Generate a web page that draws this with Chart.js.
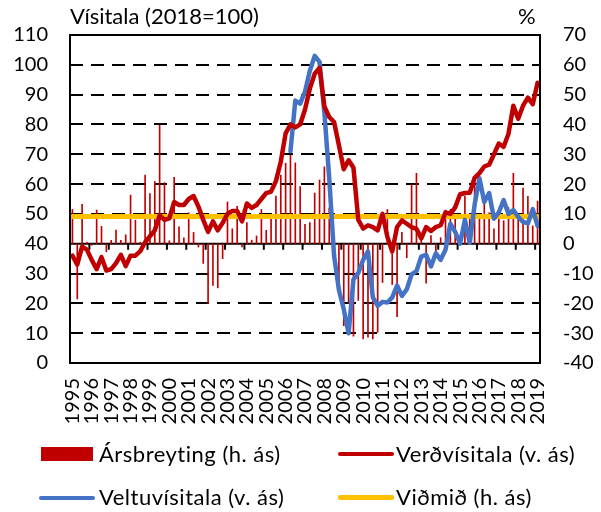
<!DOCTYPE html>
<html>
<head>
<meta charset="utf-8">
<script src="https://cdn.jsdelivr.net/npm/chart.js@4.4.1/dist/chart.umd.min.js"></script>
<style>
  html, body { margin: 0; padding: 0; background: #fff; }
  #wrap { position: relative; width: 601px; height: 512px; font-family: Lato, "Open Sans", sans-serif; color: #000; }
  canvas { position: absolute; left: 0; top: 0; }
  .txt { position: absolute; font-size: 22px; line-height: 22px; white-space: nowrap; }
  .leg { letter-spacing: 0.5px; }
  .sw { position: absolute; }
</style>
</head>
<body>
<div id="wrap">
  <canvas id="c" width="601" height="512"></canvas>
  <div class="txt" style="left:70px; top:5px;">Vísitala (2018=100)</div>
  <div class="txt" style="left:518px; top:5px;">%</div>
  <div class="sw" style="left:41px; top:447px; width:52px; height:14px; background:#C00000;"></div>
  <div class="txt leg" style="left:99px; top:443px;">Ársbreyting (h. ás)</div>
  <div class="sw" style="left:338px; top:452px; width:56px; height:4px; border-radius:2px; background:#C00000;"></div>
  <div class="txt leg" style="left:396px; top:443px;">Verðvísitala (v. ás)</div>
  <div class="sw" style="left:39px; top:496px; width:56px; height:4px; border-radius:2px; background:#4472C4;"></div>
  <div class="txt leg" style="left:99px; top:486px;">Veltuvísitala (v. ás)</div>
  <div class="sw" style="left:338px; top:495px; width:56px; height:5px; border-radius:2px; background:#FFC000;"></div>
  <div class="txt leg" style="left:396px; top:486px;">Viðmið (h. ás)</div>
</div>
<script>
// Tick labels (one per year)
const years = ['1995','1996','1997','1998','1999','2000','2001','2002','2003','2004','2005','2006','2007','2008','2009','2010','2011','2012','2013','2014','2015','2016','2017','2018','2019'];
// Quarterly categories, 1995 Q1 .. 2019 Q1
const quarters = years.flatMap(y => y === '2019' ? [y + ' Q1'] : [y + ' Q1', y + ' Q2', y + ' Q3', y + ' Q4']);

// Ársbreyting (h. ás), %
const arsbreyting = [
  11.5, -18.5, 13.2, 0.5, -0.5, 11.3, 5.8, -2.7, 1.1, 4.6,
  1.1, 3.0, 16.3, 7.9, 0.5, 23, 16.8, 20.9, 39.8, 20.5,
  1, 22.3, 5.7, 2, 10.4, 3.8, -1.1, -6.6, -20, -14,
  -14.8, -5, 14, 5, 12.5, -1.1, 7.1, 1.2, 2.6, 11.5,
  4.5, 8.5, 16, 23, 27, 29.7, 27.1, 19.2, 6.5, 7.1,
  17, 21.4, 25.8, 12, -6, -15, -27.5, -20, -31, -19,
  -31.9, -31.3, -31.9, -29.7, -13, 11.5, -13.7, -24.5, 3.8, -4.7,
  19.8, 23.6, 2.7, -13.2, 2.7, -3.3, 2, 11.3, 11.5, 10,
  2.7, 16, 10, 20.9, 9.9, 13.7, 10.4, 5, 11.5, 7.7,
  12.1, 23.6, 8.8, 18.7, 15.9, 6, 14.3
];
// Verðvísitala (v. ás), 2018=100
const verdvisitala = [
  36, 33, 39, 38, 34.5, 31.5, 35.5, 31, 31.5, 33.5,
  36.3, 32.5, 36, 36, 37.5, 40.5, 42.5, 44.5, 49.5, 48,
  48.5, 54, 53, 53, 55, 56, 52.5, 48, 44, 47.5,
  44.5, 47, 50, 51, 51, 47.5, 53.5, 52, 53, 55,
  57, 57.5, 61, 67.5, 77, 80, 79, 80, 85, 92,
  97, 99, 86, 82.5, 80.8, 73, 65, 68, 65.5, 48,
  45.1, 46.2, 45.6, 44.5, 50, 42.3, 37.4, 45.6, 47.8, 46.7,
  45.6, 45, 41.8, 45.6, 44.3, 45.6, 46.2, 50.5, 50, 52.2,
  56.6, 57, 57.1, 62.1, 63.7, 65.9, 66.5, 70, 73.6, 72.5,
  76.9, 86.3, 81.9, 86.3, 89, 86.8, 94
];
// Veltuvísitala (v. ás), 2018=100
const veltuvisitala = [
  null, null, null, null, null, null, null, null, null, null,
  null, null, null, null, null, null, null, null, null, null,
  null, null, null, null, null, null, null, null, null, null,
  null, null, null, null, null, null, null, null, null, null,
  null, null, null, null, null, 71, 88, 87, 91, 98,
  103, 101, 84, 62, 36, 24.5, 18, 10, 28, 30.2,
  34.6, 37.4, 22, 19.2, 20.5, 20.3, 22, 26, 22.5, 24.7,
  29.7, 30.8, 35.7, 36.3, 32.4, 36.8, 34.6, 38, 46.7, 44,
  40, 48, 40.3, 53, 62, 54, 57, 48.4, 50.5, 54.6,
  50, 51.3, 49, 47.3, 46.8, 51.6, 46
];
// Viðmið (h. ás), %
const vidmid = 9.1;

const frame = {
  id: 'frame',
  beforeDatasetsDraw(chart) {
    const { ctx, chartArea: a, scales } = chart;
    const y0 = scales.y1.getPixelForValue(0);
    ctx.save();
    ctx.strokeStyle = '#000';
    ctx.lineWidth = 2;
    ctx.beginPath();
    ctx.moveTo(a.left, y0); ctx.lineTo(a.right, y0);
    for (let i = 4; i < quarters.length; i += 4) {
      const x = (scales.x.getPixelForValue(i - 1) + scales.x.getPixelForValue(i)) / 2;
      ctx.moveTo(x, y0); ctx.lineTo(x, y0 + 6);
    }
    ctx.stroke();
    ctx.restore();
  },
  afterDraw(chart) {
    const { ctx, chartArea: a } = chart;
    ctx.save();
    ctx.strokeStyle = '#000';
    ctx.lineWidth = 2;
    ctx.strokeRect(a.left, a.top, a.right - a.left, a.bottom - a.top);
    ctx.restore();
  }
};

const FONT = { family: 'Lato, "Open Sans", sans-serif', size: 20 };

new Chart(document.getElementById('c'), {
  data: {
    labels: quarters,
    datasets: [
      { type: 'line', label: 'Verðvísitala (v. ás)', data: verdvisitala, yAxisID: 'y', borderColor: '#C00000', borderWidth: 4.5, pointRadius: 0, tension: 0, borderCapStyle: 'round', borderJoinStyle: 'round', order: 1 },
      { type: 'line', label: 'Veltuvísitala (v. ás)', data: veltuvisitala, yAxisID: 'y', borderColor: '#4472C4', borderWidth: 4.5, pointRadius: 0, tension: 0, borderCapStyle: 'round', borderJoinStyle: 'round', order: 2 },
      { type: 'line', label: 'Viðmið (h. ás)', data: quarters.map(() => vidmid), yAxisID: 'y1', borderColor: '#FFC000', borderWidth: 5, pointRadius: 0, tension: 0, borderCapStyle: 'round', order: 3 },
      { type: 'bar', label: 'Ársbreyting (h. ás)', data: arsbreyting, yAxisID: 'y1', backgroundColor: '#C00000', barThickness: 1, order: 4 }
    ]
  },
  options: {
    responsive: false,
    animation: false,
    events: [],
    layout: { padding: { top: 30, left: 0, right: 0, bottom: 0 } },
    plugins: { legend: { display: false }, tooltip: { enabled: false } },
    scales: {
      x: {
        type: 'category',
        offset: true,
        grid: { display: false, drawTicks: false },
        border: { display: false },
        ticks: {
          autoSkip: false, maxRotation: 90, minRotation: 90, padding: 15,
          color: '#000', font: FONT,
          callback: (v, i) => (i % 4 === 0 ? years[i / 4] : '')
        },
        afterFit: s => { s.height = 149; }
      },
      y: {
        position: 'left', min: 0, max: 110,
        ticks: { stepSize: 10, color: '#000', font: FONT, padding: 22 },
        grid: {
          drawTicks: false,
          lineWidth: 2,
          color: c => ([0, 40, 110].includes(c.tick.value) ? 'rgba(0,0,0,0)' : '#000')
        },
        border: { display: false, dash: [13, 8] },
        afterFit: s => { s.width = 70; }
      },
      y1: {
        position: 'right', min: -40, max: 70,
        ticks: { stepSize: 10, color: '#000', font: FONT, padding: 23 },
        grid: { display: false, drawTicks: false },
        border: { display: false },
        afterFit: s => { s.width = 61; }
      }
    }
  },
  plugins: [frame]
});
</script>
</body>
</html>
